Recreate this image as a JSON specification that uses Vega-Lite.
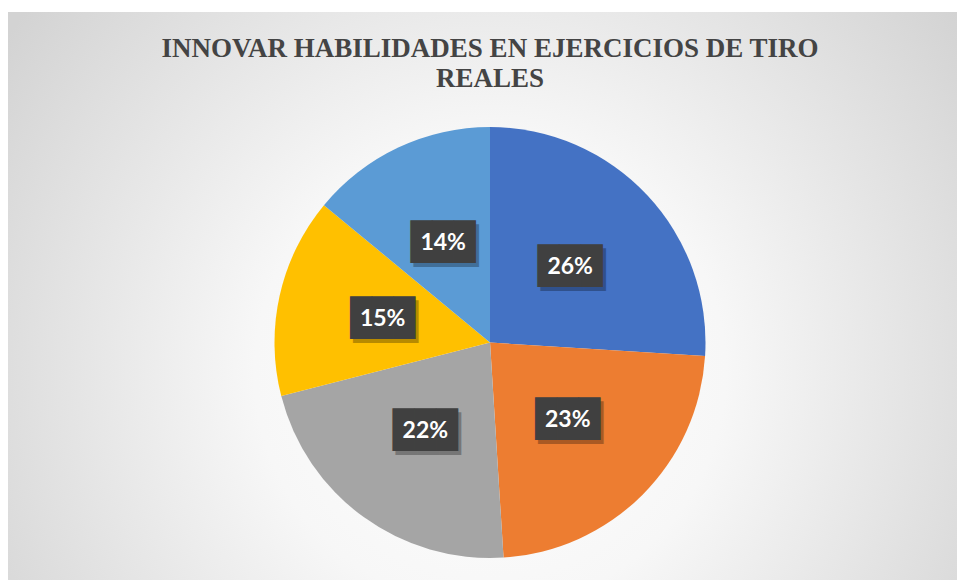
{
  "$schema": "https://vega.github.io/schema/vega-lite/v6.json",
  "width": 949,
  "height": 568,
  "padding": {"left": 8, "top": 12, "right": 0, "bottom": 0},
  "autosize": {"type": "none"},
  "background": "white",
  "title": {
    "text": ["INNOVAR HABILIDADES EN EJERCICIOS DE TIRO", "REALES"],
    "font": "Liberation Serif",
    "fontSize": 27,
    "fontWeight": "bold",
    "color": "#444444",
    "anchor": "middle",
    "frame": "group",
    "offset": -81,
    "lineHeight": 30.5,
    "dx": 7.5
  },
  "config": {"view": {"stroke": null}},
  "datasets": {
    "pie": [
      {"categoria": "A", "orden": 1, "valor": 0.26},
      {"categoria": "B", "orden": 2, "valor": 0.23},
      {"categoria": "C", "orden": 3, "valor": 0.22},
      {"categoria": "D", "orden": 4, "valor": 0.15},
      {"categoria": "E", "orden": 5, "valor": 0.14}
    ]
  },
  "layer": [
    {
      "data": {"values": [{}]},
      "mark": {
        "type": "rect",
        "fill": {
          "gradient": "radial",
          "x1": 0.508, "y1": 0.58, "r1": 0,
          "x2": 0.508, "y2": 0.58, "r2": 0.62,
          "stops": [
            {"offset": 0, "color": "#ffffff"},
            {"offset": 0.4, "color": "#f7f7f7"},
            {"offset": 1, "color": "#d3d3d3"}
          ]
        }
      },
      "encoding": {}
    },
    {
      "data": {"name": "pie"},
      "mark": {"type": "arc", "outerRadius": 215.5, "x": {"expr": "width/2 + 7.5"}, "y": {"expr": "height/2 + 46.5"}},
      "encoding": {
        "theta": {"field": "valor", "type": "quantitative", "stack": true},
        "order": {"field": "orden", "type": "quantitative"},
        "color": {
          "field": "categoria", "type": "nominal",
          "scale": {"domain": ["A", "B", "C", "D", "E"], "range": ["#4472C4", "#ED7D31", "#A5A5A5", "#FFC000", "#5B9BD5"]},
          "legend": null
        }
      }
    },
    {
      "data": {"name": "pie"},
      "mark": {"type": "text", "text": "███", "font": "DejaVu Sans Mono", "fontSize": 36, "color": "#000000", "opacity": 0.28, "align": "center", "baseline": "middle", "dx": 3, "dy": 4, "x": {"expr": "width/2 + 7.5"}, "y": {"expr": "height/2 + 46.5"}},
      "encoding": {
        "theta": {"field": "valor", "type": "quantitative", "stack": true},
        "order": {"field": "orden", "type": "quantitative"},
        "radius": {"value": 110}
      }
    },
    {
      "data": {"name": "pie"},
      "mark": {"type": "text", "text": "███", "font": "DejaVu Sans Mono", "fontSize": 36, "color": "#404040", "align": "center", "baseline": "middle", "x": {"expr": "width/2 + 7.5"}, "y": {"expr": "height/2 + 46.5"}},
      "encoding": {
        "theta": {"field": "valor", "type": "quantitative", "stack": true},
        "order": {"field": "orden", "type": "quantitative"},
        "radius": {"value": 110}
      }
    },
    {
      "data": {"name": "pie"},
      "mark": {"type": "text", "font": "Lato", "fontSize": 23, "fontWeight": "bold", "color": "#ffffff", "align": "center", "baseline": "middle", "x": {"expr": "width/2 + 7.5"}, "y": {"expr": "height/2 + 46.5"}},
      "encoding": {
        "theta": {"field": "valor", "type": "quantitative", "stack": true},
        "order": {"field": "orden", "type": "quantitative"},
        "radius": {"value": 110},
        "text": {"field": "valor", "type": "quantitative", "format": ".0%"}
      }
    }
  ]
}
